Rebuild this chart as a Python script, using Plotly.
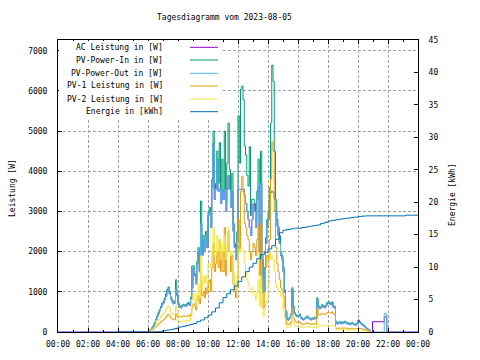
import pandas as pd
import plotly.graph_objects as go

DAY = "2023-08-05"
NEXT = "2023-08-06"

# ---------------- data (5-minute samples 06:00 .. 20:55) ----------------
PV_IN = (
    [0, 25, 60, 110, 165, 240, 320, 400, 480, 560, 640, 720] +            # 06
    [760, 850, 950, 1060, 1120, 1000, 870, 800, 740, 760, 1300, 950] +     # 07
    [720, 650, 630, 670, 690, 680, 670, 710, 740, 690, 870, 1640] +        # 08
    [1650, 1450, 1250, 1750, 2100, 1550, 3260, 1950, 2400, 2050, 2500, 2150] +  # 09
    [3000, 3100, 2700, 3800, 5000, 3500, 3700, 4500, 3700, 4710, 3400, 4300] +  # 10
    [3500, 5000, 3200, 4200, 5200, 4040, 3400, 3950, 2700, 2200, 1900, 2500] +  # 11
    [5380, 4200, 6040, 6120, 5790, 4630, 4400, 3900, 3630, 4610, 2900, 3300] +  # 12
    [3300, 3200, 2750, 3500, 4300, 2100, 4500, 1900, 1000, 1600, 2350, 2800] +  # 13
    [3000, 3600, 5200, 6640, 6230, 4500, 3300, 2800, 2600, 2400, 2000, 1900] +  # 14
    [1600, 1050, 530, 340, 320, 370, 450, 1100, 640, 480, 430, 400] +      # 15
    [400, 450, 370, 340, 320, 350, 370, 400, 360, 340, 320, 350] +         # 16
    [340, 370, 350, 850, 650, 610, 630, 680, 650, 630, 670, 730] +         # 17
    [750, 730, 710, 750, 650, 630, 270, 220, 240, 260, 220, 250] +         # 18
    [240, 270, 250, 220, 230, 200, 220, 240, 210, 190, 200, 220] +         # 19
    [240, 260, 220, 200, 170, 150, 115, 90, 60, 35, 12, 0]                 # 20
)
PV_OUT = (
    [0, 20, 50, 100, 150, 220, 300, 380, 450, 530, 600, 680] +
    [720, 800, 880, 1000, 1060, 950, 820, 760, 700, 720, 1050, 900] +
    [680, 620, 600, 640, 660, 650, 640, 680, 700, 660, 820, 1100] +
    [1600, 1400, 1200, 1700, 2000, 1500, 2700, 1900, 2300, 2000, 2400, 2100] +
    [2900, 3000, 2600, 3600, 4700, 3300, 3550, 4300, 3500, 3550, 3200, 3550] +
    [3300, 3550, 3000, 3550, 3900, 3550, 3100, 3500, 2500, 2100, 1800, 2300] +
    [3550, 3550, 3550, 3550, 3550, 3400, 3200, 3000, 2800, 2600, 2400, 2800] +
    [3140, 3000, 2600, 3300, 3600, 2000, 3700, 1800, 980, 1500, 2200, 2600] +
    [2800, 3200, 3470, 3500, 3470, 3300, 3000, 2640, 2400, 2200, 1900, 1810] +
    [1500, 980, 500, 320, 300, 350, 420, 1050, 600, 450, 400, 380] +
    [380, 420, 350, 320, 300, 330, 350, 380, 340, 320, 300, 330] +
    [320, 350, 330, 800, 620, 580, 600, 650, 620, 600, 640, 700] +
    [720, 700, 680, 720, 620, 600, 250, 200, 220, 240, 200, 230] +
    [220, 250, 230, 200, 210, 180, 200, 220, 190, 170, 180, 200] +
    [220, 240, 200, 180, 150, 130, 100, 80, 50, 30, 10, 0]
)
AC_LEISTUNG = (
    [0, 20, 50, 100, 150, 220, 300, 380, 450, 530, 600, 680] +
    [720, 800, 880, 1000, 1060, 950, 820, 760, 700, 720, 1060, 900] +
    [680, 620, 600, 640, 660, 650, 640, 680, 700, 660, 820, 1100] +
    [1600, 1400, 1200, 1700, 2000, 1500, 2700, 1900, 2300, 2000, 2400, 2100] +
    [2900, 3000, 2600, 3600, 4700, 3300, 3550, 4300, 3500, 3550, 3200, 3550] +
    [3300, 3550, 3000, 3550, 3900, 3550, 3100, 3500, 2500, 2100, 1800, 2300] +
    [3550, 3550, 3550, 3550, 3550, 3400, 3200, 3000, 2800, 2600, 2400, 2800] +
    [3180, 3000, 2600, 3300, 3600, 2000, 3700, 1800, 980, 1500, 2200, 2600] +
    [2800, 3200, 3470, 3500, 3470, 3300, 3000, 2640, 2400, 2200, 1900, 1810] +
    [1500, 980, 500, 320, 300, 350, 420, 1050, 600, 450, 400, 380] +
    [380, 420, 350, 320, 300, 330, 350, 380, 340, 320, 300, 330] +
    [320, 350, 330, 800, 620, 580, 600, 650, 620, 600, 640, 700] +
    [720, 700, 680, 720, 620, 600, 250, 200, 220, 240, 200, 230] +
    [220, 250, 230, 200, 210, 180, 200, 220, 190, 170, 180, 200] +
    [300, 240, 200, 180, 150, 130, 100, 80, 50, 30, 10, 0]
)
PV1 = (
    [0, 10, 25, 45, 70, 100, 130, 160, 190, 220, 250, 280] +
    [300, 330, 360, 420, 440, 400, 350, 320, 300, 310, 460, 380] +
    [400, 380, 370, 390, 400, 390, 380, 400, 410, 390, 450, 600] +
    [700, 650, 550, 800, 900, 700, 1300, 900, 1000, 850, 1100, 950] +
    [1200, 1300, 1000, 1600, 2200, 1500, 1700, 2000, 1600, 2300, 1500, 2000] +
    [1500, 2600, 1400, 2000, 2500, 2000, 1500, 1900, 1200, 1000, 850, 1100] +
    [2800, 2000, 3500, 3880, 3500, 2700, 2600, 2400, 2300, 2000, 1800, 2000] +
    [2200, 2100, 1900, 2300, 2600, 1400, 2700, 1300, 600, 1000, 1600, 1900] +
    [1800, 2300, 3800, 4730, 4500, 3000, 2100, 1700, 1500, 1300, 1100, 1050] +
    [900, 600, 300, 200, 180, 200, 250, 600, 350, 280, 250, 230] +
    [230, 250, 210, 200, 190, 200, 210, 230, 210, 200, 190, 200] +
    [190, 210, 200, 580, 450, 420, 440, 460, 450, 430, 450, 480] +
    [490, 480, 470, 500, 450, 430, 100, 90, 100, 95, 90, 100] +
    [95, 100, 95, 90, 90, 85, 90, 95, 85, 80, 80, 85] +
    [90, 95, 85, 80, 70, 60, 50, 40, 25, 15, 5, 0]
)
PV2 = (
    [0, 15, 35, 60, 90, 130, 180, 230, 280, 330, 380, 430] +
    [450, 500, 560, 620, 650, 580, 500, 460, 430, 440, 650, 540] +
    [280, 250, 240, 260, 270, 270, 270, 290, 300, 280, 380, 800] +
    [950, 800, 700, 950, 1200, 850, 1900, 1050, 1400, 1200, 1400, 1200] +
    [1700, 1700, 1600, 2000, 2600, 1900, 1900, 2400, 2000, 2300, 1800, 2200] +
    [2000, 2400, 1800, 2200, 2600, 2000, 1900, 2000, 1500, 1200, 1050, 1400] +
    [2060, 2000, 2100, 2060, 2000, 1700, 1500, 1300, 1200, 1000, 980, 1100] +
    [980, 900, 800, 1000, 1300, 650, 1400, 600, 400, 560, 700, 800] +
    [1200, 1980, 1800, 1900, 1800, 1500, 1200, 1100, 1000, 1000, 900, 850] +
    [550, 350, 180, 120, 110, 130, 150, 400, 230, 170, 150, 140] +
    [140, 160, 130, 120, 110, 120, 130, 140, 130, 120, 110, 120] +
    [110, 120, 110, 200, 150, 140, 150, 160, 150, 150, 160, 170] +
    [170, 160, 160, 170, 150, 140, 60, 50, 55, 50, 50, 55] +
    [50, 55, 50, 45, 45, 45, 50, 50, 45, 40, 40, 45] +
    [45, 50, 45, 40, 35, 30, 25, 20, 12, 8, 3, 0]
)

# night / evening samples of the inverter output and AC power
OUT_NIGHT_T = ["00:00", "06:00"]
OUT_NIGHT_V = [0, 0]
OUT_EVENING_T = ["21:00", "21:45", "21:55", "24:00"]
OUT_EVENING_V = [0, 465, 0, 0]
AC_EVENING_T = ["20:58", "21:45", "21:55", "24:00"]
AC_EVENING_V = [256, 380, 0, 0]

# cumulative energy (kWh)
ENERGY_T = ["04:00", "06:00", "06:15", "06:30", "06:45", "07:00", "07:15", "07:30", "07:45",
            "08:00", "08:15", "08:30", "08:45", "09:00", "09:15", "09:30", "09:45",
            "10:00", "10:15", "10:30", "10:45", "11:00", "11:15", "11:30", "11:45",
            "12:00", "12:15", "12:30", "12:45", "13:00", "13:15", "13:30", "13:45",
            "14:00", "14:15", "14:30", "14:45", "15:00", "15:15", "15:30", "15:45",
            "16:00", "16:15", "16:30", "16:45", "17:00", "17:15", "17:30", "17:45",
            "18:00", "18:15", "18:30", "18:45", "19:00", "19:15", "19:30", "19:45",
            "20:00", "20:15", "20:30", "20:45", "21:00", "23:10", "24:00"]
ENERGY_V = [0, 0, 0.02, 0.05, 0.1, 0.2, 0.3, 0.4, 0.55,
            0.75, 0.85, 1.0, 1.15, 1.3, 1.6, 1.85, 2.2,
            2.6, 3.1, 3.7, 4.5, 5.3, 5.9, 6.5, 7.1,
            7.8, 8.5, 9.3, 10.0, 10.6, 11.3, 11.9, 12.3,
            12.8, 13.3, 14.3, 15.3, 15.7, 15.8, 15.9, 16.0,
            16.0, 16.1, 16.2, 16.3, 16.4, 16.5, 16.7, 16.9,
            17.1, 17.2, 17.3, 17.4, 17.5, 17.55, 17.65, 17.7,
            17.8, 17.85, 17.9, 17.9, 17.9, 18.0, 18.0]

LEGEND = ["AC Leistung in [W]", "PV-Power-In in [W]", "PV-Power-Out in [W]",
          "PV-1 Leistung in [W]", "PV-2 Leistung in [W]", "Energie in [kWh]"]
COLORS = ["#9400d3", "#009e73", "#56b4e9", "#e69f00", "#f0e442", "#0072b2"]


def ts(hm):
    if hm == "24:00":
        return pd.Timestamp(f"{NEXT} 00:00")
    return pd.Timestamp(f"{DAY} {hm}")


T5 = list(pd.date_range(f"{DAY} 06:00", periods=len(PV_IN), freq="5min"))

FONT = "DejaVu Sans Mono"
fig = go.Figure()

ac_x = [ts(t) for t in OUT_NIGHT_T] + T5 + [ts(t) for t in AC_EVENING_T]
ac_y = OUT_NIGHT_V + AC_LEISTUNG + AC_EVENING_V
out_x = [ts(t) for t in OUT_NIGHT_T] + T5 + [ts(t) for t in OUT_EVENING_T]
out_y = OUT_NIGHT_V + PV_OUT + OUT_EVENING_V

series = [
    (ac_x, ac_y, "y"),
    (T5, PV_IN, "y"),
    (out_x, out_y, "y"),
    (T5, PV1, "y"),
    (T5, PV2, "y"),
    ([ts(t) for t in ENERGY_T], ENERGY_V, "y2"),
]
for (x, y, ax), name, col in zip(series, LEGEND, COLORS):
    fig.add_trace(go.Scatter(x=x, y=y, name=name, mode="lines", yaxis=ax,
                             line=dict(color=col, width=1, shape="hv"),
                             showlegend=False))

L, R, T, B = 58, 418, 40, 332
W_PLOT, H_PLOT = R - L, B - T

def px(xp):
    return (xp - L) / W_PLOT

def py(yp):
    return (B - yp) / H_PLOT

# opaque key box (covers the grid), gnuplot style
fig.add_shape(type="rect", xref="paper", yref="paper", layer="above",
              x0=px(59), x1=px(222), y0=py(119), y1=py(41),
              fillcolor="white", line=dict(width=0))

# gnuplot-style key: right-aligned text, sample line right of it
rows = [47.3, 60, 73.3, 86, 99, 111.7]
for name, col, ry in zip(LEGEND, COLORS, rows):
    fig.add_annotation(x=px(165), y=py(ry), xref="paper", yref="paper",
                       text=name, showarrow=False, xanchor="right", yanchor="middle",
                       font=dict(family=FONT, size=8, color="black"))
    fig.add_shape(type="line", xref="paper", yref="paper", layer="above",
                  x0=px(190), x1=px(218), y0=py(ry), y1=py(ry),
                  line=dict(color=col, width=1))

fig.add_annotation(x=px(224), y=py(17), xref="paper", yref="paper",
                   text="Tagesdiagramm vom 2023-08-05", showarrow=False,
                   xanchor="center", yanchor="middle",
                   font=dict(family=FONT, size=8, color="black"))
fig.add_annotation(x=px(12), y=py(188), xref="paper", yref="paper",
                   text="Leistung [W]", textangle=-90, showarrow=False,
                   xanchor="center", yanchor="middle",
                   font=dict(family=FONT, size=8, color="black"))
fig.add_annotation(x=px(452), y=py(195), xref="paper", yref="paper",
                   text="Energie [kWh]", textangle=-90, showarrow=False,
                   xanchor="center", yanchor="middle",
                   font=dict(family=FONT, size=8, color="black"))

grid = dict(showgrid=True, gridcolor="#a0a0a0", gridwidth=1, griddash="3px,2px")
tickfont = dict(family=FONT, size=8, color="black")

fig.update_layout(
    width=480, height=360,
    margin=dict(l=L, r=480 - R, t=T, b=360 - B),
    paper_bgcolor="white", plot_bgcolor="white",
    showlegend=False,
    xaxis=dict(type="date", range=[f"{DAY} 00:00", f"{NEXT} 00:00"],
               tick0=f"{DAY} 00:00", dtick=7200000, tickformat="%H:%M",
               ticks="inside", ticklen=4, tickcolor="black",
               minor=dict(dtick=3600000, ticks="inside", ticklen=2, tickcolor="black"),
               showline=True, linecolor="black", linewidth=1, mirror="ticks",
               zeroline=False, tickfont=tickfont, ticklabelstandoff=4, **grid),
    yaxis=dict(range=[0, 7266], dtick=1000, tick0=0,
               ticks="inside", ticklen=4, tickcolor="black",
               showline=True, linecolor="black", linewidth=1,
               zeroline=False, tickfont=tickfont, ticklabelstandoff=8, **grid),
    yaxis2=dict(range=[0, 45], dtick=5, tick0=0, overlaying="y", side="right",
                ticks="inside", ticklen=4, tickcolor="black",
                showline=True, linecolor="black", linewidth=1,
                showgrid=False, zeroline=False, tickfont=tickfont,
                ticklabelstandoff=8),
)

fig.write_html("out.html", config={"displayModeBar": False},
               post_script="document.body.style.margin='0';document.body.style.padding='0';")
